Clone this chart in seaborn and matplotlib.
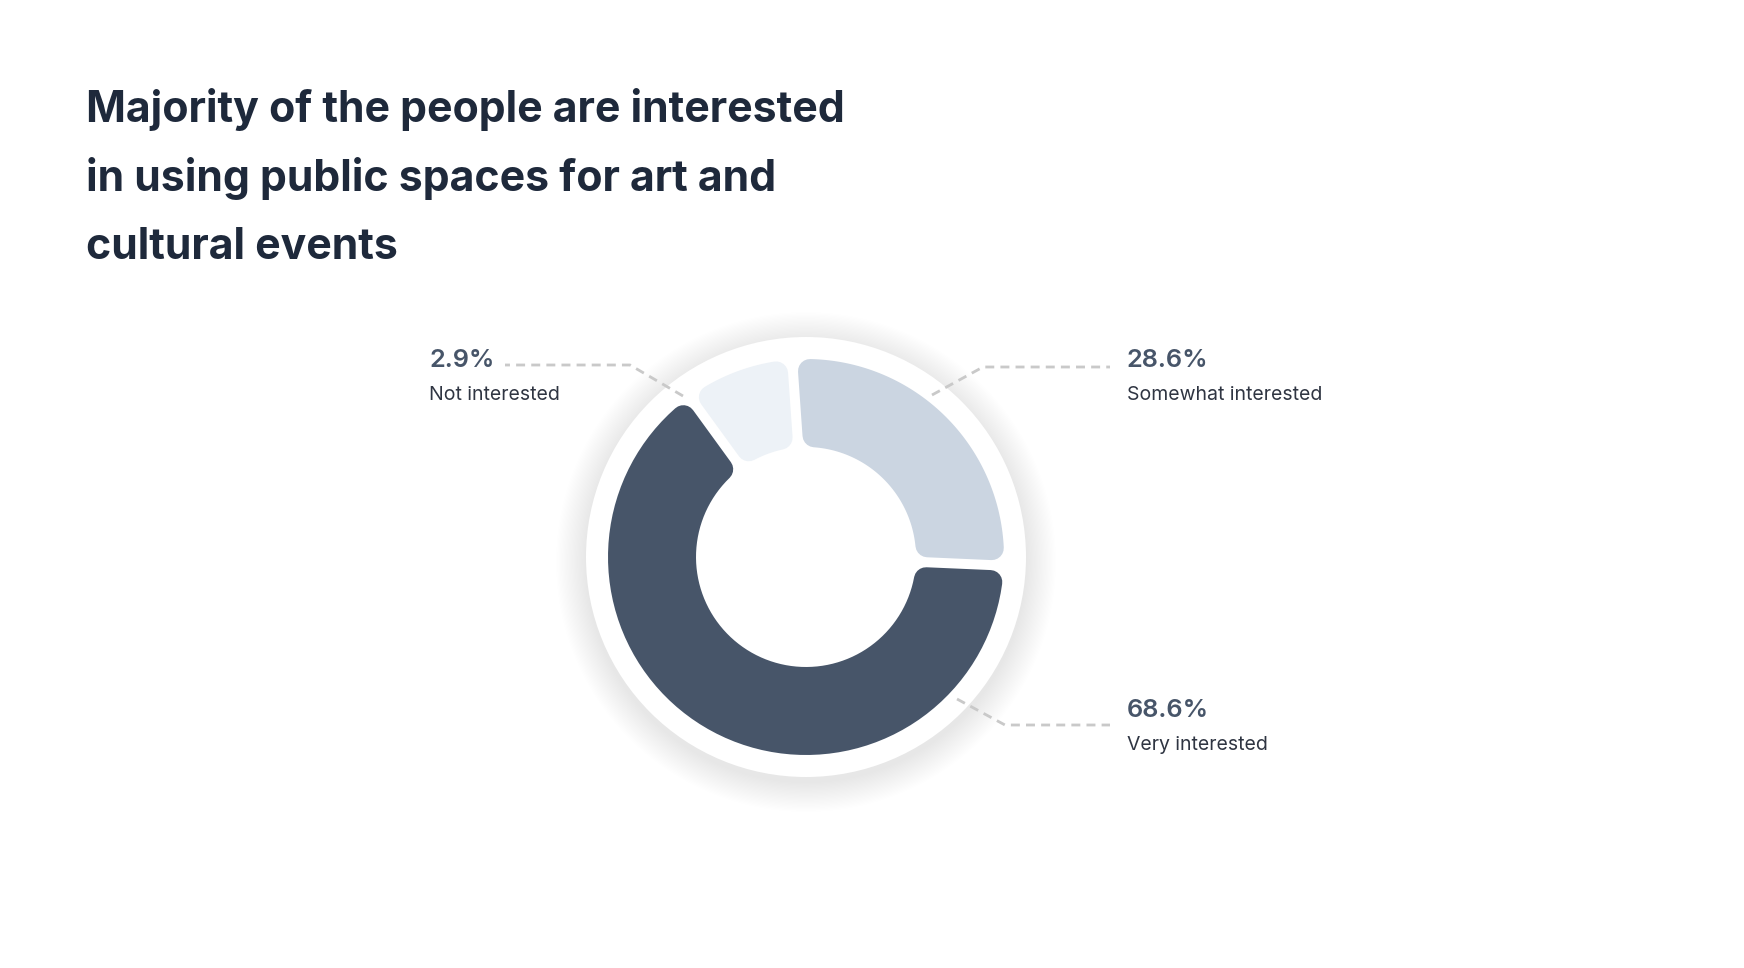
import numpy as np
import matplotlib
matplotlib.use("Agg")
import matplotlib.pyplot as plt
from matplotlib.patches import Polygon, Circle
import seaborn as sns

# data (order: counter-clockwise from 3 o'clock)
categories = ["Somewhat interested", "Not interested", "Very interested"]
shares = [28.6, 2.9, 68.6]
pct_labels = ["28.6%", "2.9%", "68.6%"]
colors = ["#cbd5e1", "#edf2f7", "#475569"]

title_lines = [
    "Majority of the people are interested",
    "in using public spaces for art and",
    "cultural events",
]

# layout (pixels)
W, H, DPI = 1744, 968, 100
cx, cy = 806, 557
r_out, r_in = 198, 110
corner = 12
gap = 10
start_angle = -2.5
min_angle = 32


def px2pt(px):
    return px * 72 / DPI


def display_spans(vals):
    vals = np.asarray(vals, dtype=float)
    spans = vals / vals.sum() * 360
    small = spans < min_angle
    rest = 360 - min_angle * small.sum()
    spans[~small] = vals[~small] / vals[~small].sum() * rest
    spans[small] = min_angle
    return spans


def wedge_points(t1, t2):
    d = corner + gap / 2
    ro = r_out - corner
    ri = r_in + corner
    ao = np.degrees(np.arcsin(d / ro))
    ai = np.degrees(np.arcsin(d / ri))
    outer = np.radians(np.linspace(t1 + ao, t2 - ao, 80))
    inner = np.radians(np.linspace(t2 - ai, t1 + ai, 80))
    xs = np.concatenate([cx + ro * np.cos(outer), cx + ri * np.cos(inner)])
    ys = np.concatenate([cy - ro * np.sin(outer), cy - ri * np.sin(inner)])
    return np.column_stack([xs, ys])


sns.set_theme(style="white")
plt.rcParams["font.family"] = ["Inter", "DejaVu Sans"]

fig = plt.figure(figsize=(W / DPI, H / DPI), dpi=DPI)
fig.patch.set_facecolor("white")
ax = fig.add_axes([0, 0, 1, 1])
ax.set_xlim(0, W)
ax.set_ylim(H, 0)
ax.set_aspect("equal")
ax.axis("off")

# soft shadow + white plate behind the donut
for r in np.linspace(250, 221, 24):
    ax.add_patch(Circle((cx, cy + 5), r, color="black", alpha=0.0028, lw=0))
ax.add_patch(Circle((cx, cy), 220, color="white", lw=0))

# donut slices
spans = display_spans(shares)
t = start_angle
for span, col in zip(spans, colors):
    pts = wedge_points(t, t + span)
    ax.add_patch(Polygon(pts, closed=True, fc=col, ec=col,
                         lw=px2pt(2 * corner), joinstyle="round"))
    t += span

# leader lines
dash = dict(color="#c9c9c9", lw=px2pt(2.8), ls=(0, (3.2, 2.2)), solid_capstyle="butt")
ax.plot([683, 630, 505], [396, 365, 365], **dash)
ax.plot([932, 983, 1110], [395, 367, 367], **dash)
ax.plot([957, 1005, 1110], [699, 725, 725], **dash)

# labels
label_pos = {
    "Not interested": (429, 367),
    "Somewhat interested": (1127, 367),
    "Very interested": (1127, 717),
}
for cat, pct in zip(categories, pct_labels):
    x, y = label_pos[cat]
    ax.text(x, y, pct, fontsize=18.3, fontweight="semibold", color="#475569",
            va="baseline", ha="left")
    ax.text(x, y + 33, cat, fontsize=14, color="#2f3542",
            va="baseline", ha="left")

# title
for i, line in enumerate(title_lines):
    ax.text(86, 122 + i * 68.5, line, fontsize=30.8, fontweight="bold",
            color="#1e293b", va="baseline", ha="left")

fig.savefig("out.png", dpi=DPI, facecolor="white")
